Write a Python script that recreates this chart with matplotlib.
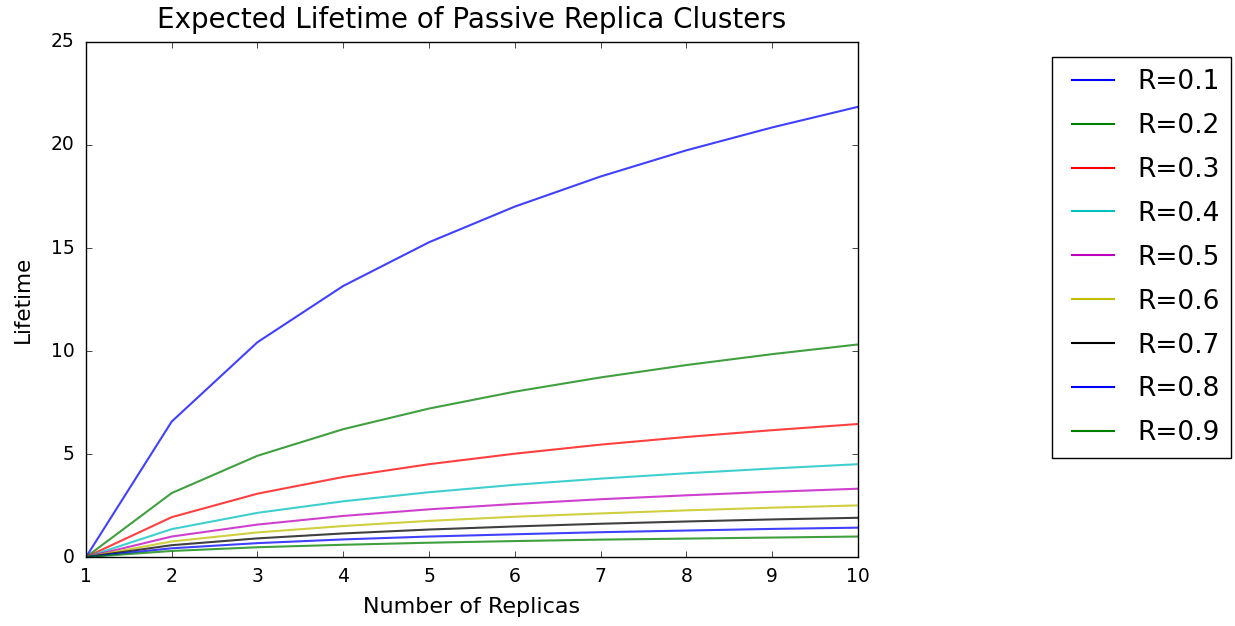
import numpy as np
import matplotlib
matplotlib.use('Agg')
import matplotlib.pyplot as plt

plt.style.use('classic')

# number of replicas and lifetime curves
replicas = [1, 2, 3, 4, 5, 6, 7, 8, 9, 10]
r_labels = ['R=0.1', 'R=0.2', 'R=0.3', 'R=0.4', 'R=0.5',
            'R=0.6', 'R=0.7', 'R=0.8', 'R=0.9']
life_01 = [0, 6.58, 10.43, 13.16, 15.28, 17.01, 18.47, 19.74, 20.85, 21.85]
life_02 = [0, 3.11, 4.92, 6.21, 7.21, 8.03, 8.72, 9.32, 9.85, 10.32]
life_03 = [0, 1.94, 3.08, 3.89, 4.51, 5.02, 5.46, 5.83, 6.16, 6.46]
life_04 = [0, 1.36, 2.15, 2.71, 3.15, 3.51, 3.81, 4.07, 4.30, 4.51]
life_05 = [0, 1.00, 1.58, 2.00, 2.32, 2.58, 2.81, 3.00, 3.17, 3.32]
life_06 = [0, 0.76, 1.20, 1.51, 1.76, 1.96, 2.12, 2.27, 2.40, 2.51]
life_07 = [0, 0.58, 0.91, 1.15, 1.34, 1.49, 1.62, 1.73, 1.83, 1.91]
life_08 = [0, 0.43, 0.68, 0.86, 1.00, 1.11, 1.21, 1.29, 1.37, 1.43]
life_09 = [0, 0.30, 0.48, 0.60, 0.70, 0.78, 0.85, 0.90, 0.95, 1.00]
lifetimes = [life_01, life_02, life_03, life_04, life_05,
             life_06, life_07, life_08, life_09]
colors = ['b', 'g', 'r', 'c', 'm', 'y', 'k', 'b', 'g']

fig = plt.figure(figsize=(12.35, 6.26), dpi=100, facecolor='white')
ax = fig.add_axes([0.0696, 0.110, 0.625, 0.823])

for vals, lab, col in zip(lifetimes, r_labels, colors):
    ax.plot(replicas, vals, color=col, lw=1.5, alpha=0.75, label=lab)

ax.set_xlim(1, 10)
ax.set_ylim(0, 25)
ax.set_xticks(replicas)
ax.set_yticks([0, 5, 10, 15, 20, 25])
ax.tick_params(axis='both', labelsize=13.5)
ax.tick_params(axis='x', pad=7)
ax.tick_params(axis='y', pad=8)
ax.set_xlabel('Number of Replicas', fontsize=16, labelpad=8)
ax.set_ylabel('Lifetime', fontsize=15.5, labelpad=13)
ax.set_title('Expected Lifetime of Passive Replica Clusters', fontsize=20, pad=10)

leg = ax.legend(loc='upper left', bbox_to_anchor=(1052 / 1235, 1 - 57 / 626),
                bbox_transform=fig.transFigure, borderaxespad=0,
                fontsize=19, numpoints=2, labelspacing=0.68,
                handlelength=2.19, handletextpad=0.58, borderpad=0.45,
                fancybox=False)
leg.get_frame().set_edgecolor('black')
for line in leg.get_lines():
    line.set_alpha(1)

fig.savefig('out.png', dpi=100, facecolor='white')
